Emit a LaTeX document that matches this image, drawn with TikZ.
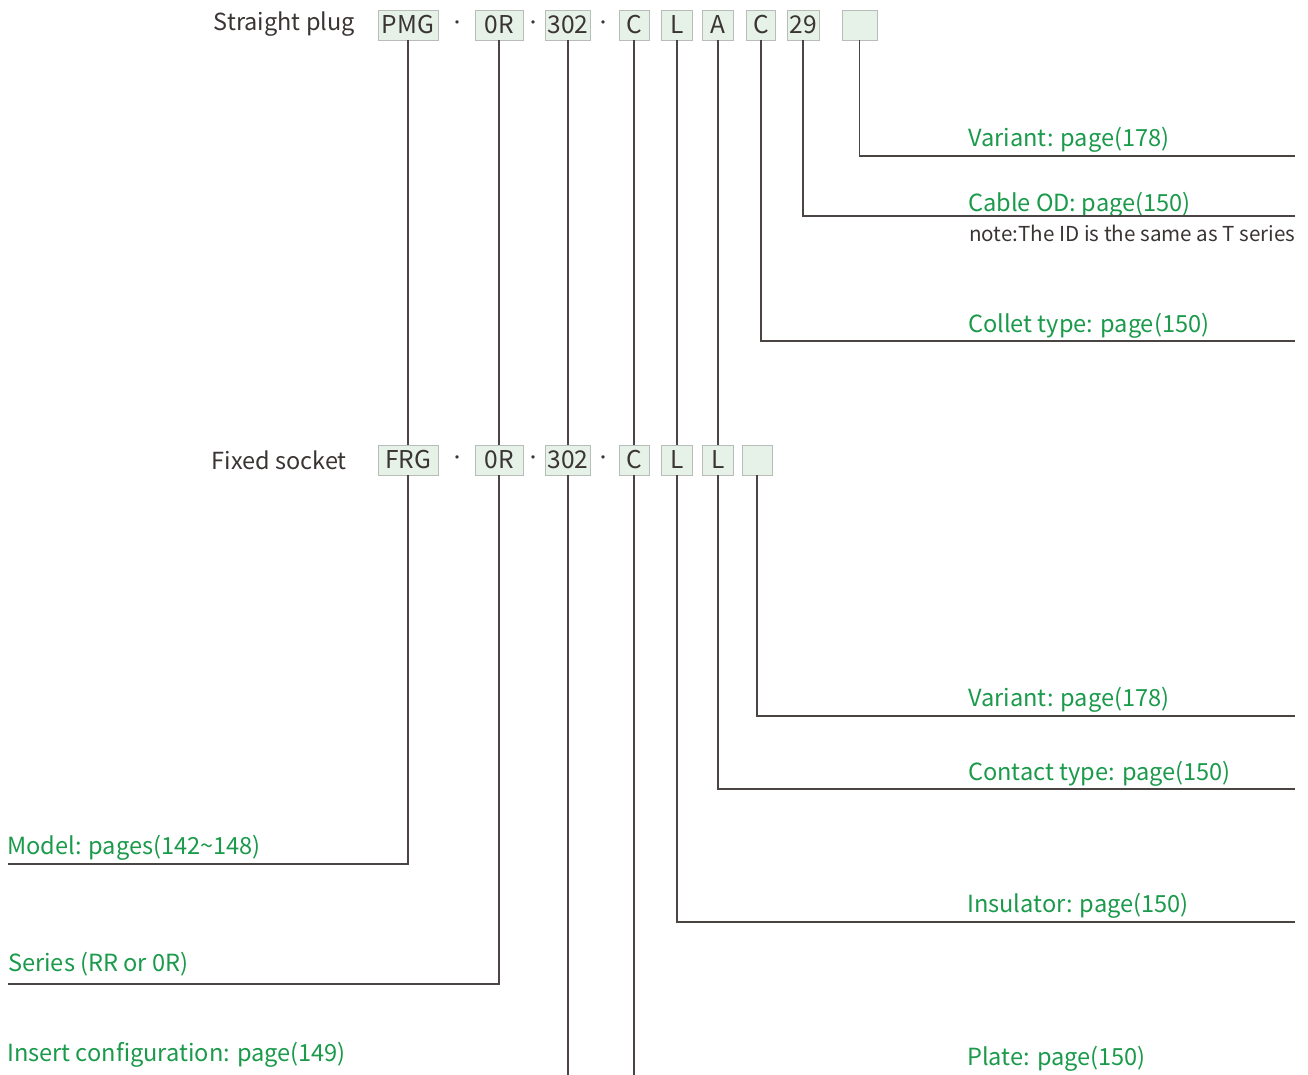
\documentclass[tikz,border=0pt]{standalone}
\usepackage{fontspec}
\setmainfont{Noto Sans CJK SC}
\definecolor{gtext}{HTML}{1A9A4A}
\definecolor{dtext}{HTML}{3A3433}
\definecolor{lnc}{HTML}{4A4542}
\definecolor{boxfill}{HTML}{E6F2E8}
\definecolor{boxline}{HTML}{B8BDB9}
\begin{document}
\begin{tikzpicture}[x=1pt,y=-1pt,
  codebox/.style={draw=boxline,fill=boxfill,line width=0.9pt,minimum height=30pt,inner sep=0pt,text=dtext,font=\fontsize{24.5}{24.5}\selectfont},
  sep/.style={text=dtext,font=\fontsize{16}{16}\selectfont,inner sep=0pt},
  rowlabel/.style={text=dtext,font=\fontsize{23.5}{23.5}\selectfont,anchor=east,inner sep=0pt},
  glabel/.style={text=gtext,font=\fontsize{23.6}{23.6}\selectfont,anchor=west,inner sep=0pt},
  note/.style={text=dtext,font=\fontsize{20.6}{21}\selectfont,anchor=west,inner sep=0pt},
  conn/.style={draw=lnc,line width=1.2pt}]
\useasboundingbox (0,0) rectangle (1308,1075);
% top row
\node[rowlabel] (tl) at (355,24) {Straight plug};
\node[codebox,minimum width=60pt] (t1) at (408,25) {PMG};
\node[sep] (td1) at (457,25) {·};
\node[codebox,minimum width=48pt] (t2) at (499,25) {0R};
\node[sep] (td2) at (533,25) {·};
\node[codebox,minimum width=45pt] (t3) at (568,25) {302};
\node[sep] (td3) at (603,25) {·};
\node[codebox,minimum width=30pt] (t4) at (634,25) {C};
\node[codebox,minimum width=31pt] (t5) at (677,25) {L};
\node[codebox,minimum width=31pt] (t6) at (718,25) {A};
\node[codebox,minimum width=29pt] (t7) at (761,25) {C};
\node[codebox,minimum width=32pt] (t8) at (803,25) {29};
\node[codebox,minimum width=35pt] (t9) at (859.5,25) {};
% bottom row
\node[rowlabel] (bl) at (347,460) {Fixed socket};
\node[codebox,minimum width=60pt] (b1) at (408,460) {FRG};
\node[sep] (bd1) at (457,460) {·};
\node[codebox,minimum width=48pt] (b2) at (499,460) {0R};
\node[sep] (bd2) at (533,460) {·};
\node[codebox,minimum width=45pt] (b3) at (568,460) {302};
\node[sep] (bd3) at (603,460) {·};
\node[codebox,minimum width=30pt] (b4) at (634,460) {C};
\node[codebox,minimum width=31pt] (b5) at (677,460) {L};
\node[codebox,minimum width=31pt] (b6) at (718,460) {L};
\node[codebox,minimum width=30pt] (b7) at (757,460) {};
% right labels (top)
\node[glabel] (lv1) at (968,140) {Variant: page(178)};
\node[glabel] (lcod) at (968,205) {Cable OD: page(150)};
\node[note] (lnote) at (969,233) {note:The ID is the same as T series};
\node[glabel] (lcol) at (968,326) {Collet type: page(150)};
% right labels (bottom)
\node[glabel] (lv2) at (968,700) {Variant: page(178)};
\node[glabel] (lct) at (968,774) {Contact type: page(150)};
\node[glabel] (lins) at (967,906) {Insulator: page(150)};
\node[glabel] (lpl) at (967,1059) {Plate: page(150)};
% left labels
\node[glabel] (lmod) at (7,848) {Model: pages(142\textasciitilde148)};
\node[glabel] (lser) at (8,964) {Series (RR or 0R)};
\node[glabel] (lins2) at (7,1055) {Insert configuration: page(149)};
% line ends
\coordinate (e9) at (1295,156);
\coordinate (e8) at (1295,216);
\coordinate (e7) at (1295,341);
\coordinate (f7) at (1295,716);
\coordinate (f6) at (1295,789);
\coordinate (f5) at (1295,922);
\coordinate (f1) at (8,864);
\coordinate (f2) at (8,984);
\coordinate (f3) at (568,1075);
\coordinate (f4) at (634,1075);
% connectors top -> bottom
\draw[conn] (t1.south) -- (b1.north);
\draw[conn] (t2.south) -- (b2.north);
\draw[conn] (t3.south) -- (b3.north);
\draw[conn] (t4.south) -- (b4.north);
\draw[conn] (t5.south) -- (b5.north);
\draw[conn] (t6.south) -- (b6.north);
% top -> right labels
\draw[conn] (t9.south) |- (e9);
\draw[conn] (t8.south) |- (e8);
\draw[conn] (t7.south) |- (e7);
% bottom -> labels
\draw[conn] (b7.south) |- (f7);
\draw[conn] (b6.south) |- (f6);
\draw[conn] (b5.south) |- (f5);
\draw[conn] (b1.south) |- (f1);
\draw[conn] (b2.south) |- (f2);
\draw[conn] (b3.south) -- (f3);
\draw[conn] (b4.south) -- (f4);
\end{tikzpicture}
\end{document}
